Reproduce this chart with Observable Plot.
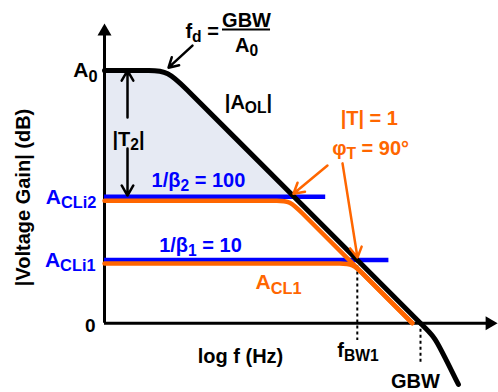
<!DOCTYPE html>
<html><head><meta charset="utf-8">
<script src="https://cdn.jsdelivr.net/npm/d3@7"></script>
<script src="https://cdn.jsdelivr.net/npm/@observablehq/plot@0.6"></script>
<style>html,body{margin:0;padding:0;background:#fff;} svg{display:block}</style>
</head><body><div id="chart"></div>
<script>
// x: decades of log f measured from the vertical axis; y: gain in dB
const aolDecade = [0, 0.4, 0.7, 1, 1.3, 1.6, 4.7, 4.93, 5.08, 5.23, 5.38, 5.6];
const aolGain   = [80, 80, 80, 80, 74, 68, 6, 1.4, -1.6, -4.6, -10.6, -19.4];
const shadeDecade = [0, 0.4, 0.7, 1, 1.3, 1.6, 3];
const shadeGain   = [80, 80, 80, 80, 74, 68, 40];
const acl2Decade = [0, 2.5, 2.73, 2.93, 3.13, 3.33, 4.87];
const acl2Gain   = [38.8, 38.8, 38.8, 38.8, 34.8, 30.8, 0];
const acl1Decade = [0, 3.5, 3.725, 3.925, 4.125, 4.325, 4.87];
const acl1Gain   = [18.9, 18.9, 18.9, 18.9, 14.9, 10.9, 0];
const betaGain = [40, 20];        // 1/β2 = 100, 1/β1 = 10
const betaEnd  = [3.5, 4.5];
const markDecade = [4, 5];        // fBW1, GBW
const markTop    = [20, 0];
const markLow    = [-5.5, -12.8];
const axisXEnd = 6.22, axisYEnd = 94.9;

const labelText   = ["A_{0}", "A_{CLi2}", "A_{CLi1}", "0", "log f (Hz)", "f_{BW1}", "GBW", "A_{CL1}", "|A_{OL}|", "|T_{2}|", "1/β_{2} = 100", "1/β_{1} = 10", "|T| = 1", "φ_{T} = 90°", "f_{d} =", "GBW", "A_{0}"];
const labelX      = [-0.11, -0.127, -0.142, -0.142, 2.152, 4.01, 4.92, 2.39, 2.278, 0.38, 1.487, 1.519, 4.19, 4.21, 1.28, 2.247, 2.247];
const labelY      = [80, 40, 20, -0.7, -10.5, -8.6, -18.5, 12.9, 69.9, 58.2, 45.2, 24.6, 64.8, 55.3, 92.3, 95.8, 87.9];
const labelAnchor = ["end", "end", "end", "end", "middle", "middle", "middle", "start", "middle", "middle", "middle", "middle", "middle", "middle", "start", "middle", "middle"];
const labelColor  = ["#000", "#0000ff", "#0000ff", "#000", "#000", "#000", "#000", "#ff6600", "#000", "#000", "#0000ff", "#0000ff", "#ff6600", "#ff6600", "#000", "#000", "#000"];
const labelSize   = [21, 21, 21, 19, 20, 20, 20, 21, 20, 20, 20, 20, 20, 20, 20, 20, 20];

// arrows: [x1, y1, x2, y2]
const arrowX1 = [1.392, 0.364, 0.364, 3.528, 3.766];
const arrowY1 = [87.9, 65.1, 55.3, 49.9, 50.6];
const arrowX2 = [1.013, 0.364, 0.364, 2.99, 4.003];
const arrowY2 = [80.9, 80, 40.4, 41.0, 20.8];
const arrowColor = ["#000", "#000", "#000", "#ff6600", "#ff6600"];

const idx = a => d3.range(a.length);
const headRight = {draw(ctx) { ctx.moveTo(0, 0); ctx.lineTo(-12, -7); ctx.lineTo(-12, 7); ctx.closePath(); }};

const textMarks = ["start", "middle", "end"].map(a =>
  Plot.text(idx(labelText).filter(i => labelAnchor[i] === a), {
    x: i => labelX[i], y: i => labelY[i], text: i => labelText[i],
    fill: i => labelColor[i], fontSize: i => labelSize[i], textAnchor: a, fontWeight: "bold"
  }));

const svg = Plot.plot({
  width: 498, height: 392,
  x: {type: "linear", domain: [0, 5], range: [104, 420], axis: null},
  y: {type: "linear", domain: [0, 80], range: [322.7, 70], axis: null},
  color: {type: "identity"},
  style: {fontFamily: "'Liberation Sans', Arial, sans-serif", background: "#fff"},
  marks: [
    Plot.areaY(idx(shadeDecade), {x: i => shadeDecade[i], y1: 40, y2: i => shadeGain[i], fill: "#e6eaf3", curve: "basis"}),
    Plot.ruleX([0], {y1: 0, y2: axisYEnd - 3, stroke: "#000", strokeWidth: 3}),
    Plot.ruleY([0], {x1: 0, x2: axisXEnd - 0.1, stroke: "#000", strokeWidth: 3}),
    Plot.dot([0], {x: 0, y: axisYEnd, symbol: headRight, rotate: -90, fill: "#000", stroke: null, r: 5}),
    Plot.dot([0], {x: axisXEnd, y: 0, symbol: headRight, rotate: 0, fill: "#000", stroke: null, r: 5}),
    Plot.ruleX(idx(markDecade), {x: i => markDecade[i], y1: i => markTop[i], y2: i => markLow[i], stroke: "#000", strokeWidth: 2, strokeDasharray: "3,3"}),
    Plot.ruleY(idx(betaGain), {y: i => betaGain[i], x1: 0, x2: i => betaEnd[i], stroke: "#0000ff", strokeWidth: 4.5}),
    Plot.line(idx(acl2Decade), {x: i => acl2Decade[i], y: i => acl2Gain[i], stroke: "#ff6600", strokeWidth: 4.5, curve: "basis"}),
    Plot.line(idx(acl1Decade), {x: i => acl1Decade[i], y: i => acl1Gain[i], stroke: "#ff6600", strokeWidth: 4.5, curve: "basis"}),
    Plot.line(idx(aolDecade), {x: i => aolDecade[i], y: i => aolGain[i], stroke: "#000", strokeWidth: 5, curve: "basis", strokeLinecap: "round"}),
    Plot.ruleY([0], {y: 92.97, x1: 1.867, x2: 2.627, stroke: "#000", strokeWidth: 2}),
    Plot.arrow(idx(arrowX1), {x1: i => arrowX1[i], y1: i => arrowY1[i], x2: i => arrowX2[i], y2: i => arrowY2[i], stroke: i => arrowColor[i], strokeWidth: 2.5, headLength: 7, headAngle: 60}),
    ...textMarks,
    Plot.text(["|Voltage Gain| (dB)"], {x: -1.282, y: 39.8, rotate: -90, fontSize: 20, fontWeight: "bold", fill: "#000"})
  ]
});

// turn _{...} into subscript tspans
d3.select(svg).selectAll("text").each(function() {
  const t = this.textContent;
  if (!t.includes("_{")) return;
  const el = d3.select(this);
  el.text(null);
  let down = false;
  t.split(/(_\{[^}]*\})/).filter(s => s.length).forEach(s => {
    if (s.startsWith("_{")) {
      el.append("tspan").attr("font-size", "0.78em").attr("dy", "0.28em").text(s.slice(2, -1));
      down = true;
    } else {
      const ts = el.append("tspan").text(s);
      if (down) { ts.attr("dy", "-0.218em"); down = false; }
    }
  });
});

document.getElementById("chart").appendChild(svg);
</script>
</body></html>
